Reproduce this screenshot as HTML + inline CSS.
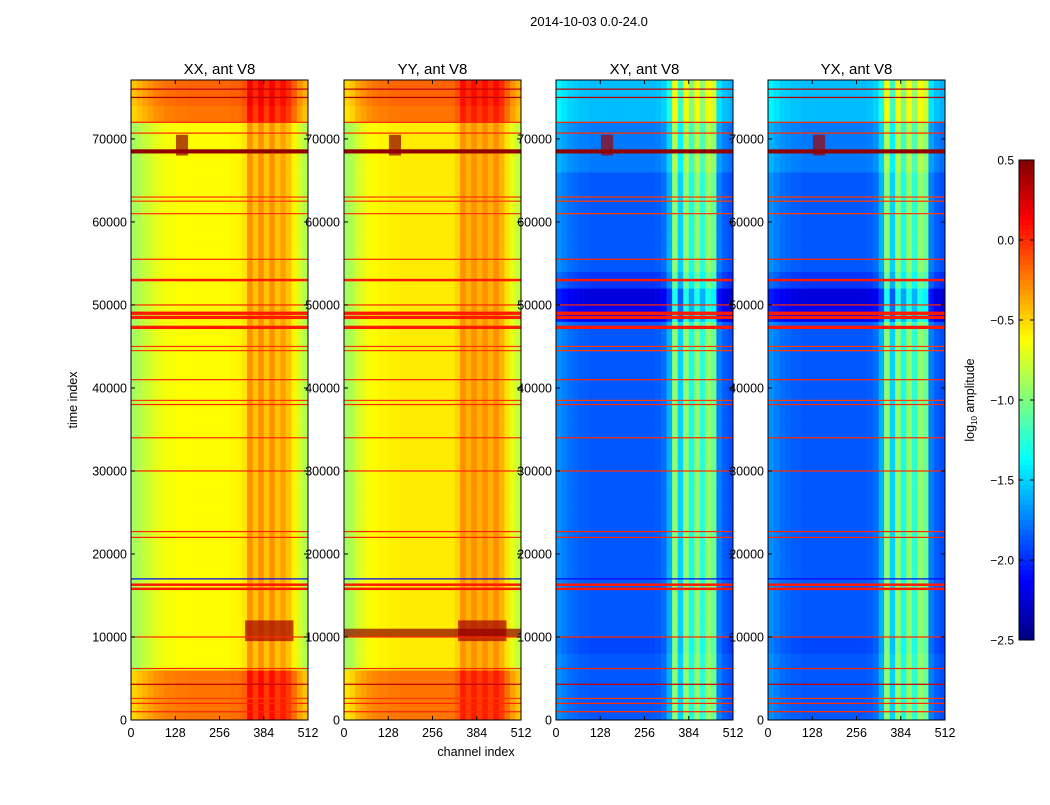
<!DOCTYPE html>
<html><head><meta charset="utf-8"><style>
body{margin:0;background:#fff;}
svg text{font-family:"Liberation Sans",sans-serif;}
</style></head><body>
<svg id="fig" width="1050" height="800" xmlns="http://www.w3.org/2000/svg">
<rect width="1050" height="800" fill="#fff"/>
<text x="589" y="26" font-size="13" text-anchor="middle">2014-10-03 0.0-24.0</text>
</svg>
<script>
// ---- data ----
const panelTitles = ["XX, ant V8","YY, ant V8","XY, ant V8","YX, ant V8"];
const xTicks = [0,128,256,384,512];
const yTicks = [0,10000,20000,30000,40000,50000,60000,70000];
const cbTicks = [0.5,0.0,-0.5,-1.0,-1.5,-2.0,-2.5];
const timeBinSize = 2000;
const chanBinSize = 16;
const colXX = [-0.9,-0.85,-0.8,-0.75,-0.7,-0.68,-0.65,-0.65,-0.63,-0.63,-0.62,-0.62,-0.62,-0.62,-0.62,-0.62,-0.62,-0.62,-0.6,-0.6,-0.55,-0.3,-0.45,-0.3,-0.45,-0.3,-0.45,-0.35,-0.45,-0.6,-0.75,-0.85];
const colYY = [-0.9,-0.85,-0.75,-0.7,-0.65,-0.62,-0.6,-0.6,-0.58,-0.58,-0.57,-0.57,-0.57,-0.57,-0.57,-0.57,-0.57,-0.57,-0.57,-0.57,-0.5,-0.3,-0.4,-0.3,-0.4,-0.3,-0.4,-0.3,-0.4,-0.55,-0.7,-0.8];
const colXY = [-1.7,-1.75,-1.8,-1.82,-1.85,-1.85,-1.87,-1.87,-1.87,-1.87,-1.87,-1.87,-1.87,-1.87,-1.87,-1.87,-1.87,-1.87,-1.85,-1.8,-1.6,-0.95,-1.5,-0.95,-1.3,-0.95,-1.25,-0.95,-1.05,-1.75,-1.85,-1.9];
const rowXX = [0.4,0.4,0.4,0.0,0,0,0,0,0,0,0,0,0,0,0,0,0,0,0,0,0,0,0,0,0,0,0,0,0,0,0,0,0,0,0,0,0.4,0.45,0.45];
const rowYY = [0.35,0.35,0.35,0.0,0,0,0,0,0,0,0,0,0,0,0,0,0,0,0,0,0,0,0,0,0,0,0,0,0,0,0,0,0,0,0,0,0.35,0.4,0.4];
const rowXY = [0,0,0,0,-0.05,0,0,0,0,0,0,0,0,0,0,0,0,0,0,0,0,0,0,0,-0.3,-0.35,-0.1,0,0,0,0,0,0,0.1,0.1,0.1,0.3,0.3,0.3];
const hotT0 = [9500,9500,10000,68000,68000,68000,68000];
const hotT1 = [12000,12000,11000,70500,70500,70500,70500];
const hotC0 = [330,330,0,130,130,130,130];
const hotC1 = [470,470,512,165,165,165,165];
const hotV  = [0.4,0.4,0.45,0.45,0.45,0.4,0.4];
const hotP  = [0,1,1,0,1,2,3];
const lineT = [1000,2000,2600,4300,6200,10000,15800,16300,17000,22000,22700,30000,34000,38000,38500,41000,44500,45000,47300,48500,49000,50000,53000,55500,61000,62500,63000,68500,70700,72000,75000,76000];
const lineV = [0.0,0.0,-0.05,0.3,0.0,0.0,0.05,0.05,-2.1,0.0,0.0,0.0,0.0,0.0,-0.05,0.0,-0.05,-0.05,0.05,0.05,0.05,0.0,0.05,0.0,-0.05,-0.05,-0.05,0.45,0.0,0.0,0.35,0.3];
const lineDur = [150,150,150,150,150,150,300,300,150,150,150,150,150,150,150,150,150,150,400,400,400,150,300,150,150,150,150,500,150,150,150,150];
// ---- drawing ----
const NS="http://www.w3.org/2000/svg";
const svg=document.getElementById('fig');
function jet(v){let f=(v+2.5)/3;f=Math.max(0,Math.min(1,f));
 const r=Math.max(0,Math.min(1,Math.min(4*f-1.5,-4*f+4.5)));
 const g=Math.max(0,Math.min(1,Math.min(4*f-0.5,-4*f+3.5)));
 const b=Math.max(0,Math.min(1,Math.min(4*f+0.5,-4*f+2.5)));
 return `rgb(${Math.round(r*255)},${Math.round(g*255)},${Math.round(b*255)})`;}
function mk(tag,attrs){const e=document.createElementNS(NS,tag);for(const k in attrs)e.setAttribute(k,attrs[k]);svg.appendChild(e);return e;}
const panelX=[131,344,556,768], PW=177, PT=80, PB=720, YMAX=77100;
function ys(t){return PB-(t/YMAX)*(PB-PT);}
const cols=[colXX,colYY,colXY,colXY], rows=[rowXX,rowYY,rowXY,rowXY];
panelTitles.forEach((title,p)=>{
 const x0=panelX[p]; const xs=c=>x0+c/512*PW;
 const col=cols[p], row=rows[p];
 for(let r=0;r<row.length;r++){
  const t0=r*timeBinSize, t1=Math.min(YMAX,(r+1)*timeBinSize);
  if(t0>=YMAX)break;
  for(let c=0;c<col.length;c++){
   const cell=mk('rect',{x:xs(c*chanBinSize),y:ys(t1),width:xs((c+1)*chanBinSize)-xs(c*chanBinSize)+0.3,height:ys(t0)-ys(t1)+0.3,fill:jet(col[c]+row[r])});
   
   
  }
 }
 for(let i=0;i<hotP.length;i++){ if(hotP[i]!==p)continue;
  const h=mk('rect',{x:xs(hotC0[i]),y:ys(hotT1[i]),width:xs(hotC1[i])-xs(hotC0[i]),height:ys(hotT0[i])-ys(hotT1[i]),fill:jet(hotV[i]),opacity:0.7});
  
  
 }
 for(let i=0;i<lineT.length;i++){
  const h=Math.max(1.2,ys(lineT[i]-lineDur[i]/2)-ys(lineT[i]+lineDur[i]/2));
  const l=mk('rect',{x:x0,y:ys(lineT[i])-h/2,width:PW,height:h,fill:jet(lineV[i])});
  
  
 }
 const fr=mk('rect',{x:x0,y:PT,width:PW,height:PB-PT,fill:'none',stroke:'#000','stroke-width':1});
 
 
 const tt=mk('text',{x:x0+PW/2,y:74,'font-size':15,'text-anchor':'middle'});tt.textContent=title;
 
 
 xTicks.forEach(v=>{const x=xs(v);
  mk('line',{x1:x,x2:x,y1:PB,y2:PB-4,stroke:'#000'});mk('line',{x1:x,x2:x,y1:PT,y2:PT+4,stroke:'#000'});
  const t=mk('text',{x:x,y:PB+17,'font-size':12.5,'text-anchor':'middle'});t.textContent=v;
  
  });
 yTicks.forEach(v=>{const y=ys(v);
  mk('line',{x1:x0,x2:x0+4,y1:y,y2:y,stroke:'#000'});mk('line',{x1:x0+PW,x2:x0+PW-4,y1:y,y2:y,stroke:'#000'});
  const t=mk('text',{x:x0-4,y:y+4.5,'font-size':12.5,'text-anchor':'end'});t.textContent=v;
  
  });
});
const xl=mk('text',{x:476,y:756,'font-size':12.5,'text-anchor':'middle'});xl.textContent='channel index';


const yl=mk('text',{x:77,y:400,'font-size':12.5,'text-anchor':'middle',transform:'rotate(-90 77 400)'});yl.textContent='time index';


const CX=1019,CW=15,CT=160,CB=640;
for(let i=0;i<96;i++){const v=0.5-3*(i+0.5)/96;
 const s=mk('rect',{x:CX,y:CT+i*(CB-CT)/96,width:CW,height:(CB-CT)/96+0.5,fill:jet(v)});
 
 }
mk('rect',{x:CX,y:CT,width:CW,height:CB-CT,fill:'none',stroke:'#000'});
cbTicks.forEach(v=>{const y=CT+(0.5-v)/3*(CB-CT);
 mk('line',{x1:CX,x2:CX+4,y1:y,y2:y,stroke:'#000'});mk('line',{x1:CX+CW,x2:CX+CW-4,y1:y,y2:y,stroke:'#000'});
 const t=mk('text',{x:CX-5,y:y+4.5,'font-size':12,'text-anchor':'end'});t.textContent=v<0?'\u2212'+Math.abs(v).toFixed(1):v.toFixed(1);
 
 });
const cl=mk('text',{x:974,y:400,'font-size':12.5,'text-anchor':'middle',transform:'rotate(-90 974 400)'});
cl.innerHTML='log<tspan font-size="8" dy="3">10</tspan><tspan dy="-3"> amplitude</tspan>';


</script>
</body></html>
